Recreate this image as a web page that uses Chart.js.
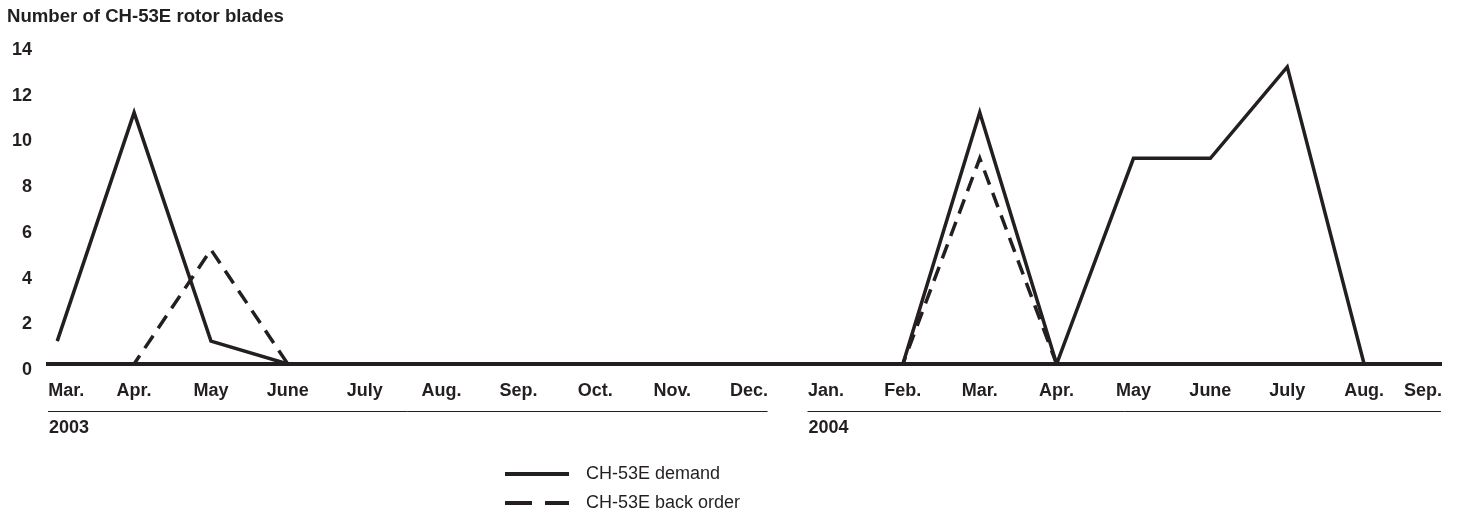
<!DOCTYPE html>
<html>
<head>
<meta charset="utf-8">
<script src="https://cdn.jsdelivr.net/npm/chart.js@4/dist/chart.umd.min.js"></script>
<style>
  html, body { margin: 0; padding: 0; background: #fff; }
  body { width: 1457px; height: 512px; position: relative; overflow: hidden;
         font-family: "Liberation Sans", Arial, sans-serif; color: #231f20; }
  #wrap { position: absolute; left: 0; top: 0; width: 1457px; height: 512px; }
  #title { position: absolute; left: 7px; top: 5px; font-weight: bold; font-size: 18.6px; }
  #legend { position: absolute; left: 505px; top: 459px; font-size: 18px; }
  .row { display: flex; align-items: center; height: 29px; }
  .swatch { width: 64px; height: 4px; margin-right: 17px; position: relative; }
  .solid { background: #231f20; }
  .dash { background: linear-gradient(to right, #231f20 0 27px, transparent 27px 40px, #231f20 40px 64px); }
</style>
</head>
<body>
<div id="wrap"><canvas id="chart" width="1457" height="512"></canvas></div>
<div id="title">Number of CH-53E rotor blades</div>
<div id="legend">
  <div class="row"><div class="swatch solid"></div><span>CH-53E demand</span></div>
  <div class="row"><div class="swatch dash"></div><span>CH-53E back order</span></div>
</div>
<script>
// 月ラベル (2003年3月〜2004年9月)
const months = ['Mar.', 'Apr.', 'May', 'June', 'July', 'Aug.', 'Sep.', 'Oct.', 'Nov.', 'Dec.',
                'Jan.', 'Feb.', 'Mar.', 'Apr.', 'May', 'June', 'July', 'Aug.', 'Sep.'];
const demand    = [1, 11, 1, 0, 0, 0, 0, 0, 0, 0, 0, 0, 11, 0, 9, 9, 13, 0, 0];
const backOrder = [0, 0, 5, 0, 0, 0, 0, 0, 0, 0, 0, 0, 9, 0, 0, 0, 0, 0, 0];
const years = ['2003', '2004'];
const yearStart = [0, 10];   // 各年の最初の月のインデックス

const ink = '#231f20';
const font = '"Liberation Sans", Arial, sans-serif';
const EM = '\u2003';

// 両端のラベルは枠内に収まるよう空白で寄せる
function monthLabel(v) {
    if (v === 0) return EM + months[v];
    if (v === months.length - 1) return months[v] + EM + EM;
    return months[v];
}

// x軸の下に年ラベルと区切り線を描く
const yearPlugin = {
    id: 'yearRow',
    afterDraw(chart) {
        const ctx = chart.ctx;
        const x = chart.scales.x;
        const lineY = 411.5;
        ctx.save();
        ctx.strokeStyle = ink;
        ctx.lineWidth = 1;
        ctx.fillStyle = ink;
        ctx.font = 'bold 18px ' + font;
        ctx.textBaseline = 'middle';
        years.forEach((yr, i) => {
            const x0 = i === 0 ? x.left : x.getPixelForValue(yearStart[i] - 0.24);
            const x1 = i === years.length - 1 ? x.right : x.getPixelForValue(yearStart[i + 1] - 0.76);
            ctx.beginPath();
            ctx.moveTo(x0, lineY);
            ctx.lineTo(x1, lineY);
            ctx.stroke();
            ctx.fillText(yr, x0 + 1, 428);
        });
        ctx.restore();
    }
};

new Chart(document.getElementById('chart'), {
    type: 'line',
    data: {
        datasets: [
            {
                label: 'CH-53E demand',
                data: demand.map((v, i) => ({ x: i, y: v })),
                borderColor: ink,
                borderWidth: 3.5,
                pointRadius: 0,
                tension: 0
            },
            {
                label: 'CH-53E back order',
                data: backOrder.map((v, i) => ({ x: i, y: v })),
                borderColor: ink,
                borderWidth: 3.5,
                borderDash: [15, 9],
                pointRadius: 0,
                tension: 0
            }
        ]
    },
    options: {
        responsive: false,
        animation: false,
        layout: { padding: { left: 0, right: 16, top: 44, bottom: 0 } },
        plugins: { legend: { display: false }, tooltip: { enabled: false } },
        scales: {
            x: {
                type: 'linear',
                min: -0.12,
                max: 18,
                grid: { display: false, drawTicks: false },
                border: { display: true, color: ink, width: 4 },
                afterBuildTicks: s => { s.ticks = months.map((_, i) => ({ value: i })); },
                afterFit: s => { s.height = 148; s.paddingLeft = 0; s.paddingRight = 0; },
                ticks: {
                    callback: v => monthLabel(v),
                    autoSkip: false,
                    maxRotation: 0,
                    padding: 16,
                    color: ink,
                    font: { family: font, size: 18, weight: 'bold' }
                }
            },
            y: {
                min: 0,
                max: 14,
                grid: { display: false, drawTicks: false },
                border: { display: false },
                afterFit: s => { s.width = 48; },
                ticks: {
                    stepSize: 2,
                    padding: 16,
                    labelOffset: 6,
                    crossAlign: 'near',
                    color: ink,
                    font: { family: font, size: 18, weight: 'bold' }
                }
            }
        }
    },
    plugins: [yearPlugin]
});
</script>
</body>
</html>
